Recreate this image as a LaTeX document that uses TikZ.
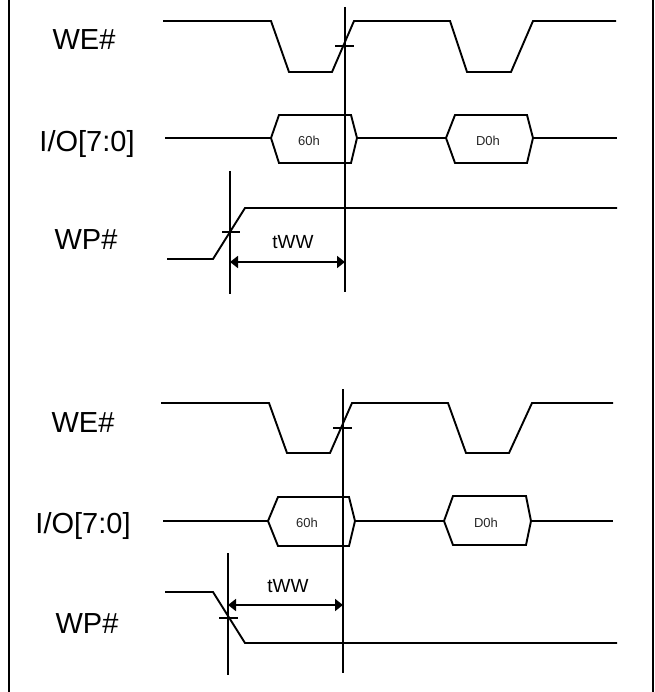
\documentclass[tikz,border=0pt]{standalone}
\usepackage{fontspec}
\setmainfont{Liberation Sans}
\usetikzlibrary{arrows.meta}
\begin{document}
\begin{tikzpicture}[x=1pt,y=-1pt,
  sig/.style={line width=1.9pt, line join=miter},
  tick/.style={line width=1.6pt},
  sig lbl/.style={inner sep=0pt, anchor=base, font=\fontsize{29}{34}\selectfont},
  hex lbl/.style={inner sep=0pt, anchor=base, font=\fontsize{13}{15}\selectfont, text=black!85},
  tim lbl/.style={inner sep=0pt, anchor=base, font=\fontsize{19}{22}\selectfont},
  dim/.style={line width=1.8pt, {Triangle[length=8pt,width=12pt]}-{Triangle[length=8pt,width=12pt]}},
  frameline/.style={line width=1.5pt}]
\useasboundingbox (0,0) rectangle (654,692);
% frame
\draw[frameline] (9,0) -- (9,692);
\draw[frameline] (653,0) -- (653,692);

% ===== upper diagram =====
\node[sig lbl] (we1) at (84,50) {WE\#};
\node[sig lbl] (io1) at (87,152) {I/O[7:0]};
\node[sig lbl] (wp1) at (86,250) {WP\#};

\draw[sig] (163,21) -- (271,21) -- (289,72) -- (332,72) -- (354,21) -- (450,21)
  -- (467,72) -- (511,72) -- (533,21) -- (616,21);
\draw[tick] (335,46) -- (354,46);

\draw[sig] (165,138) -- (271,138);
\draw[sig] (271,138) -- (279,115) -- (351,115) -- (357,138) -- (351,163) -- (279,163) -- cycle;
\draw[sig] (357,138) -- (446,138);
\draw[sig] (446,138) -- (455,115) -- (527,115) -- (533,138) -- (527,163) -- (455,163) -- cycle;
\draw[sig] (533,138) -- (617,138);
\node[hex lbl] (h60a) at (309,146) {60h};
\node[hex lbl] (hd0a) at (488,146) {D0h};

\draw[sig] (167,259) -- (213,259) -- (245,208) -- (617,208);
\draw[tick] (222,232) -- (240,232);

\coordinate (va1t) at (230,171);
\coordinate (va1b) at (230,294);
\coordinate (vb1t) at (345,7);
\coordinate (vb1b) at (345,292);
\draw[sig] (va1t) -- (va1b);
\draw[sig] (vb1t) -- (vb1b);
\coordinate (da1) at (230,262);
\coordinate (db1) at (345,262);
\draw[dim] (da1) -- (db1);
\node[tim lbl] (tww1) at (293,248) {tWW};

% ===== lower diagram =====
\node[sig lbl] (we2) at (83,432) {WE\#};
\node[sig lbl] (io2) at (83,533) {I/O[7:0]};
\node[sig lbl] (wp2) at (87,633) {WP\#};

\draw[sig] (161,403) -- (269,403) -- (287,453) -- (330,453) -- (352,403) -- (448,403)
  -- (466,453) -- (509,453) -- (532,403) -- (613,403);
\draw[tick] (333,428) -- (352,428);

\draw[sig] (163,521) -- (268,521);
\draw[sig] (268,521) -- (278,497) -- (349,497) -- (355,521) -- (349,546) -- (278,546) -- cycle;
\draw[sig] (355,521) -- (444,521);
\draw[sig] (444,521) -- (453,496) -- (526,496) -- (531,521) -- (526,545) -- (453,545) -- cycle;
\draw[sig] (531,521) -- (613,521);
\node[hex lbl] (h60b) at (307,527) {60h};
\node[hex lbl] (hd0b) at (486,527) {D0h};

\draw[sig] (165,592) -- (213,592) -- (245,643) -- (617,643);
\draw[tick] (219,618) -- (238,618);

\coordinate (va2t) at (228,553);
\coordinate (va2b) at (228,675);
\coordinate (vb2t) at (343,389);
\coordinate (vb2b) at (343,673);
\draw[sig] (va2t) -- (va2b);
\draw[sig] (vb2t) -- (vb2b);
\coordinate (da2) at (228,605);
\coordinate (db2) at (343,605);
\draw[dim] (da2) -- (db2);
\node[tim lbl] (tww2) at (288,592) {tWW};
\end{tikzpicture}
\end{document}
